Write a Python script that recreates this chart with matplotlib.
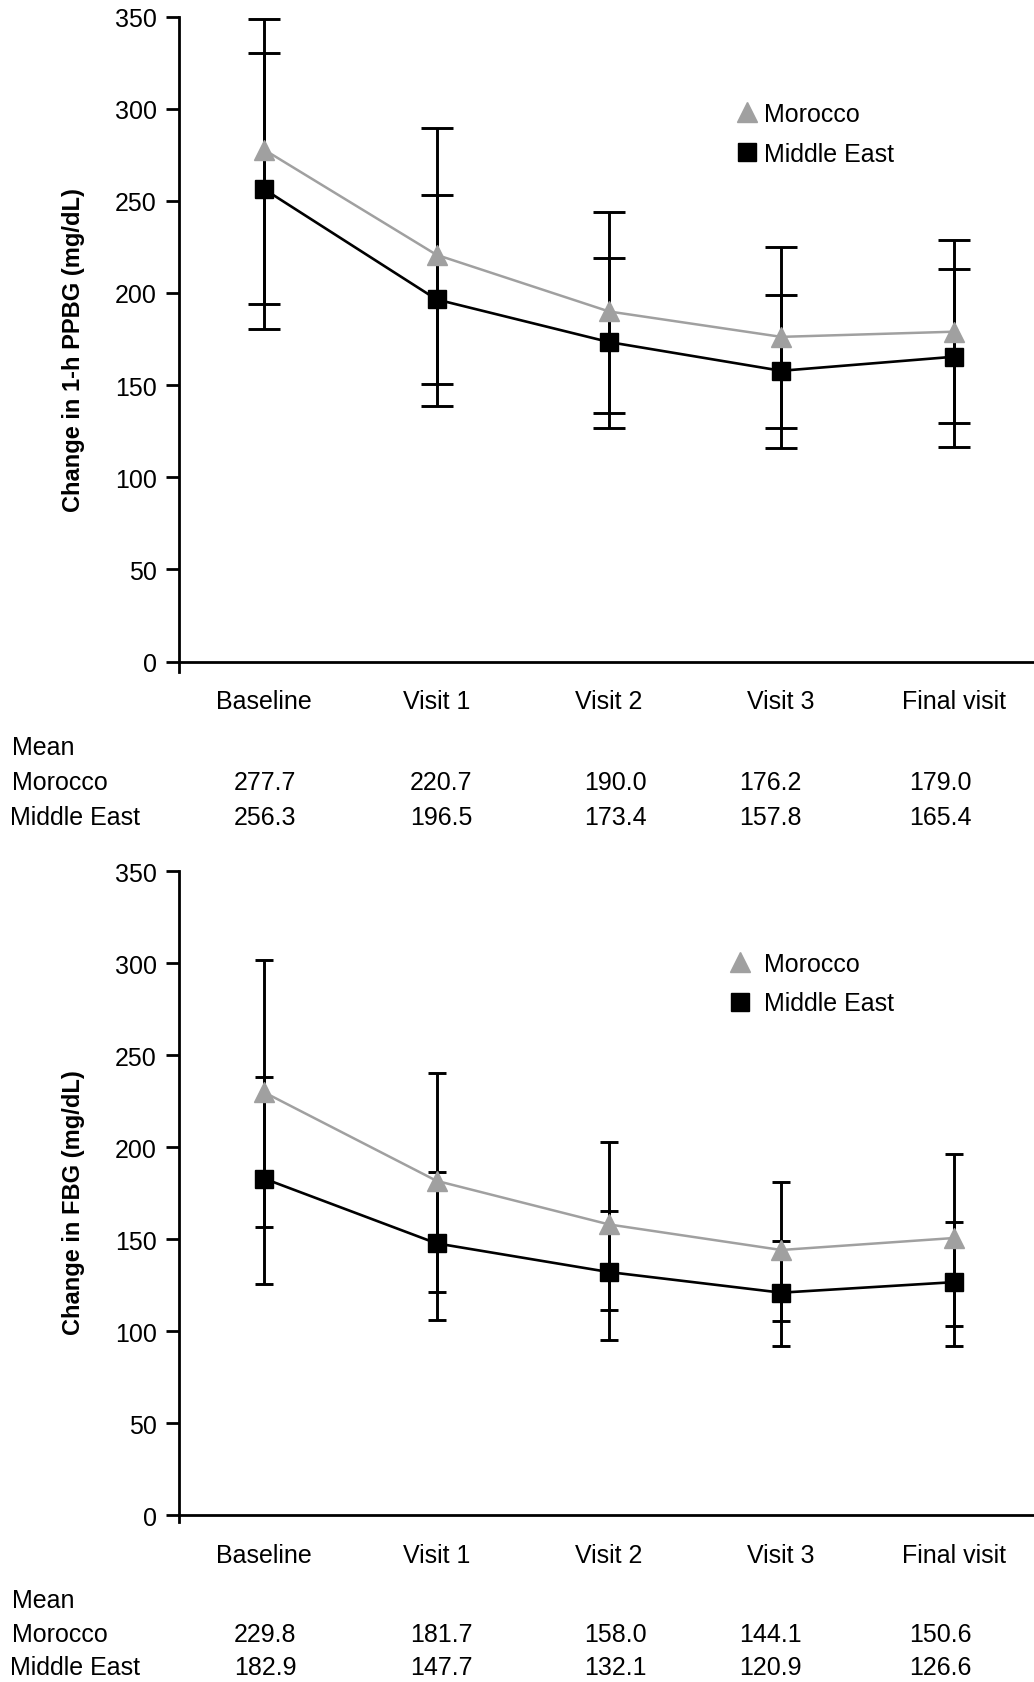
import matplotlib
matplotlib.use("Agg")
import matplotlib.pyplot as plt
from matplotlib.lines import Line2D
import numpy as np

plt.rcParams['font.family'] = ['Liberation Sans', 'DejaVu Sans']

# ---------------- data ----------------
visits = ["Baseline", "Visit 1", "Visit 2", "Visit 3", "Final visit"]
series_names = ["Morocco", "Middle East"]
yticks = [0, 50, 100, 150, 200, 250, 300, 350]

# 1-h PPBG (mg/dL)
ppbg_morocco = [277.7, 220.7, 190.0, 176.2, 179.0]
ppbg_me = [256.3, 196.5, 173.4, 157.8, 165.4]
ppbg_morocco_hi = [348.7, 289.4, 243.9, 224.9, 228.5]
ppbg_morocco_lo = [193.9, 150.9, 135.0, 126.9, 129.6]
ppbg_me_hi = [330.3, 252.9, 219.2, 199.1, 213.2]
ppbg_me_lo = [180.7, 138.8, 126.5, 116.1, 116.6]

# FBG (mg/dL)
fbg_morocco = [229.8, 181.7, 158.0, 144.1, 150.6]
fbg_me = [182.9, 147.7, 132.1, 120.9, 126.6]
fbg_morocco_hi = [301.8, 240.3, 203.0, 180.9, 196.3]
fbg_morocco_lo = [156.4, 121.1, 111.5, 105.7, 102.6]
fbg_me_hi = [238.0, 186.4, 165.5, 148.8, 159.5]
fbg_me_lo = [125.6, 106.0, 95.3, 92.1, 91.7]

ppbg_label = "Change in 1-h PPBG (mg/dL)"
fbg_label = "Change in FBG (mg/dL)"

# ---------------- layout ----------------
W, H = 1034, 1683
fig = plt.figure(figsize=(W / 100, H / 100), dpi=100)

GRAY = '#a0a0a0'
FS = 18


def fx(px):
    return px / W


def fy(py):
    return 1 - py / H


def panel(top_px, bottom_px, ymin, m, me, mhi, mlo, mehi, melo, ylabel,
          capsize, leg_left, leg_top, leg_pad):
    left_px, right_px = 179.3, 1034
    ax = fig.add_axes([fx(left_px), fy(bottom_px), (right_px - left_px) / W,
                       (bottom_px - top_px) / H])
    x = np.arange(len(visits))
    m = np.array(m); me = np.array(me)
    ax.errorbar(x, m, yerr=[m - np.array(mlo), np.array(mhi) - m], fmt='none',
                ecolor='black', elinewidth=2.1, capsize=capsize, capthick=2.1,
                zorder=2, clip_on=False)
    ax.errorbar(x, me, yerr=[me - np.array(melo), np.array(mehi) - me], fmt='none',
                ecolor='black', elinewidth=2.1, capsize=capsize, capthick=2.1,
                zorder=2, clip_on=False)
    ax.plot(x, m, color=GRAY, lw=1.8, marker='^', ms=15, mfc=GRAY, mec=GRAY,
            zorder=3, clip_on=False)
    ax.plot(x, me, color='black', lw=1.9, marker='s', ms=12.5, mfc='black',
            mec='black', zorder=4, clip_on=False)

    ax.set_xlim(-0.493, 4.467)
    ax.set_ylim(ymin, 350)
    ax.set_yticks(yticks)
    ax.set_xticks(x, visits)
    for s in ['top', 'right']:
        ax.spines[s].set_visible(False)
    ax.spines['bottom'].set_position(('data', 0))
    ax.spines['left'].set_linewidth(2.0)
    ax.spines['bottom'].set_linewidth(2.0)
    ax.tick_params(axis='y', length=9.4, width=2.0, pad=7.0, labelsize=18,
                   direction='out')
    ax.tick_params(axis='x', length=0, pad=20, labelsize=FS)
    ax.set_ylabel(ylabel, fontsize=17, fontweight='bold', va='center')
    ax.yaxis.set_label_coords(-0.1235, 0.492)

    handles = [Line2D([], [], color=GRAY, marker='^', ls='None', ms=15),
               Line2D([], [], color='black', marker='s', ls='None', ms=12.5)]
    ax.legend(handles, series_names, loc='upper left',
              bbox_to_anchor=(fx(leg_left), fy(leg_top)),
              bbox_transform=fig.transFigure, frameon=False, fontsize=FS,
              handlelength=0.8, handletextpad=leg_pad, labelspacing=0.62,
              borderpad=0, borderaxespad=0)
    return ax


panel(17.5, 672.8, -5.5, ppbg_morocco, ppbg_me, ppbg_morocco_hi, ppbg_morocco_lo,
      ppbg_me_hi, ppbg_me_lo, ppbg_label, 11.2, 737, 103, 0.28)
panel(872.3, 1523, -3.8, fbg_morocco, fbg_me, fbg_morocco_hi, fbg_morocco_lo,
      fbg_me_hi, fbg_me_lo, fbg_label, 6.8, 729.5, 953, 0.58)

# ---------------- mean tables ----------------
col_px = [265, 441, 615, 770, 940]


def table(y_mean, y_m, y_me, m, me):
    fig.text(fx(12), fy(y_mean), "Mean", fontsize=FS, ha='left', va='center')
    fig.text(fx(12), fy(y_m), series_names[0], fontsize=FS, ha='left', va='center')
    fig.text(fx(10), fy(y_me), series_names[1], fontsize=FS, ha='left', va='center')
    for cx, a, b in zip(col_px, m, me):
        fig.text(fx(cx), fy(y_m), f"{a:.1f}", fontsize=FS, ha='center', va='center')
        fig.text(fx(cx), fy(y_me), f"{b:.1f}", fontsize=FS, ha='center', va='center')


table(748, 783, 818, ppbg_morocco, ppbg_me)
table(1601, 1635, 1668, fbg_morocco, fbg_me)

fig.savefig("out.png", dpi=100)
